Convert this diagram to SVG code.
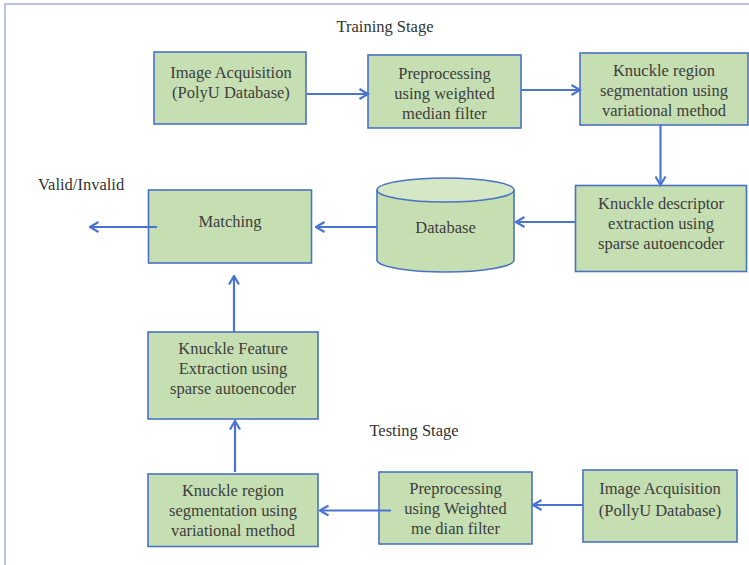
<svg xmlns="http://www.w3.org/2000/svg" width="749" height="565" viewBox="0 0 749 565">
<defs>
<style>
.box{fill:#c5dfb2;stroke:#4a72c4;stroke-width:1.6}
.t{font-family:"Liberation Serif","DejaVu Serif",serif;font-size:16.5px;fill:#3d3d3d;text-anchor:middle}
.lbl{font-family:"Liberation Serif","DejaVu Serif",serif;font-size:16.5px;fill:#333}
.c{stroke:#4a74d2;stroke-width:2.2;fill:none;marker-end:url(#ah)}
</style>
<marker id="ah" viewBox="0 0 12 12" refX="10.5" refY="6" markerWidth="12" markerHeight="12" markerUnits="userSpaceOnUse" orient="auto">
<path d="M2,1 L10.5,6 L2,11" fill="none" stroke="#4a74d2" stroke-width="2.2"/>
</marker>
</defs>
<rect x="0" y="0" width="749" height="565" fill="#ffffff"/>
<rect x="5" y="4" width="800" height="600" fill="none" stroke="#a3b3d6" stroke-width="1.5"/>
<text class="lbl" x="385" y="32" text-anchor="middle">Training Stage</text>
<text class="lbl" x="38" y="190">Valid/Invalid</text>
<text class="lbl" x="414" y="436" text-anchor="middle">Testing Stage</text>
<g id="n1"><rect class="box" x="154" y="52" width="152" height="72"/><text class="t" x="231" y="77.5">Image Acquisition</text><text class="t" x="231" y="97.5">(PolyU Database)</text></g>
<g id="n2"><rect class="box" x="368" y="55" width="153" height="73"/><text class="t" x="444.5" y="78.5">Preprocessing</text><text class="t" x="444.5" y="98.5">using weighted</text><text class="t" x="444.5" y="118.5">median filter</text></g>
<g id="n3"><rect class="box" x="580" y="53" width="168" height="72"/><text class="t" x="664" y="75.5">Knuckle region</text><text class="t" x="664" y="95.5">segmentation  using</text><text class="t" x="664" y="115.5">variational method</text></g>
<g id="n4"><rect class="box" x="575.5" y="185.5" width="171" height="86"/><text class="t" x="661" y="208.5">Knuckle descriptor</text><text class="t" x="661" y="228.5">extraction  using</text><text class="t" x="661" y="248.5">sparse autoencoder</text></g>
<g id="n5"><path class="box" d="M377,190 L377,260 A68.5,12 0 0 0 514,260 L514,190"/><ellipse cx="445.5" cy="190" rx="68.5" ry="12" fill="#d4e8c6" stroke="#4a72c4" stroke-width="1.6"/><text class="t" x="445.5" y="232.5">Database</text></g>
<g id="n6"><rect class="box" x="148.5" y="190" width="163" height="73"/><text class="t" x="230" y="227">Matching</text></g>
<g id="n7"><rect class="box" x="148" y="332" width="170" height="87"/><text class="t" x="233" y="353.5">Knuckle Feature</text><text class="t" x="233" y="373.5">Extraction using</text><text class="t" x="233" y="393.5">sparse autoencoder</text></g>
<g id="n8"><rect class="box" x="148" y="474" width="170" height="72.5"/><text class="t" x="233" y="495.5">Knuckle region</text><text class="t" x="233" y="515.5">segmentation using</text><text class="t" x="233" y="535.5">variational method</text></g>
<g id="n9"><rect class="box" x="379" y="472" width="153" height="72"/><text class="t" x="455.5" y="493.5">Preprocessing</text><text class="t" x="455.5" y="513.5">using Weighted</text><text class="t" x="455.5" y="533.5">me dian filter</text></g>
<g id="n10"><rect class="box" x="583" y="470" width="154" height="72"/><text class="t" x="660" y="493.5">Image  Acquisition</text><text class="t" x="660" y="515.5">(PollyU Database)</text></g>
<g id="connectors">
<line class="c" x1="307" y1="94" x2="368" y2="94"/>
<line class="c" x1="521" y1="90" x2="580" y2="90"/>
<line class="c" x1="660.5" y1="125" x2="660.5" y2="185"/>
<line class="c" x1="575" y1="222" x2="516" y2="222"/>
<line class="c" x1="377" y1="227" x2="316" y2="227"/>
<line class="c" x1="157" y1="227" x2="90" y2="227"/>
<line class="c" x1="234" y1="332" x2="234" y2="276"/>
<line class="c" x1="235" y1="472" x2="235" y2="421"/>
<line class="c" x1="391" y1="510.5" x2="320" y2="510.5"/>
<line class="c" x1="583" y1="505" x2="533" y2="505"/>
</g>
</svg>
